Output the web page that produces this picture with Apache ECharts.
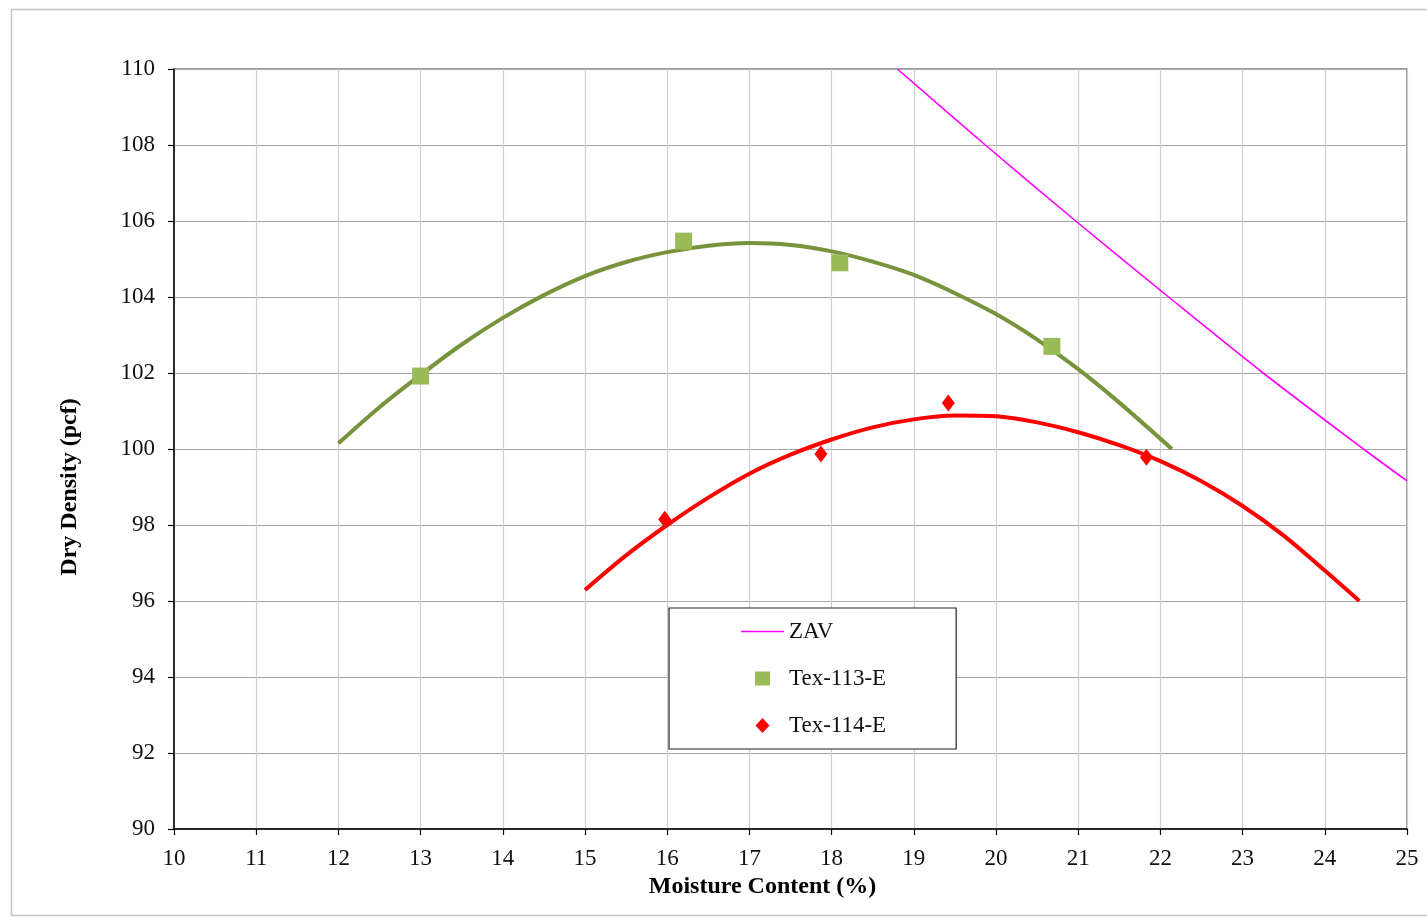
<!DOCTYPE html>
<html>
<head>
<meta charset="utf-8">
<script src="https://cdn.jsdelivr.net/npm/echarts@6/dist/echarts.min.js"></script>
<style>
html,body{margin:0;padding:0;background:#fff;}
#chart{width:1427px;height:917px;}
</style>
</head>
<body>
<div id="chart"></div>
<script>
// ZAV (zero air voids) line
const zavX = [18.8, 19.87, 20.97, 22.1, 23.25, 24.47, 25.0];
const zavY = [110.0, 108.0, 106.0, 104.0, 102.0, 100.0, 99.16];
// Tex-113-E measured points
const tex113X = [13.0, 16.2, 18.1, 20.68];
const tex113Y = [101.92, 105.47, 104.9, 102.7];
// Tex-113-E trend curve
const tex113CurveX = [12.0, 12.5, 13.0, 13.5, 14.0, 14.5, 15.0, 15.5, 16.0, 16.5, 17.0, 17.5, 18.0, 18.5, 19.0, 19.5, 20.0, 20.5, 21.0, 21.5, 22.14];
const tex113CurveY = [100.15, 101.1, 101.95, 102.75, 103.45, 104.05, 104.55, 104.92, 105.18, 105.35, 105.42, 105.37, 105.2, 104.93, 104.58, 104.1, 103.55, 102.88, 102.1, 101.22, 100.0];
// Tex-114-E measured points
const tex114X = [15.97, 17.87, 19.42, 21.83];
const tex114Y = [98.15, 99.87, 101.21, 99.78];
// Tex-114-E trend curve
const tex114CurveX = [15.0, 15.5, 16.0, 16.5, 17.0, 17.5, 18.0, 18.5, 19.0, 19.5, 20.0, 20.5, 21.0, 21.5, 22.0, 22.5, 23.0, 23.5, 24.0, 24.42];
const tex114CurveY = [96.29, 97.2, 98.0, 98.72, 99.35, 99.85, 100.25, 100.57, 100.78, 100.88, 100.86, 100.7, 100.44, 100.1, 99.68, 99.15, 98.5, 97.72, 96.8, 96.0];
// axis ticks
const xMin = 10, xMax = 25, xStep = 1;
const yMin = 90, yMax = 110, yStep = 2;

const zip = (a, b) => a.map((v, i) => [v, b[i]]);
const FONT = '"Liberation Serif", "Times New Roman", serif';

// legend icons: a tiny corner dot on each side keeps the icon box at 43x15, so the symbol keeps its size
const BOX = 'M0,0 L0.01,0 L0,0.01 Z M43,15 L42.99,15 L43,14.99 Z ';
const ICON_SQUARE = 'path://' + BOX + 'M14,0.5 L29,0.5 L29,14.5 L14,14.5 Z';
const ICON_DIAMOND = 'path://' + BOX + 'M21.5,0 L28.5,7.5 L21.5,15 L14.5,7.5 Z';
const ICON_LINE = 'path://' + BOX + 'M0,6.8 L43,6.8 L43,8.3 L0,8.3 Z';

const chart = echarts.init(document.getElementById('chart'), null, {renderer: 'canvas'});
chart.setOption({
  animation: false,
  backgroundColor: '#ffffff',
  graphic: [{
    type: 'rect', left: 9, top: 7, z: -10,
    shape: {width: 1430, height: 906},
    style: {fill: 'none', stroke: '#c4c4c4', lineWidth: 1.5}
  }],
  grid: {
    left: 174, right: 20, top: 69, bottom: 88,
    show: true, borderColor: '#7f7f7f', borderWidth: 1.5, backgroundColor: 'transparent'
  },
  legend: {
    orient: 'vertical',
    left: 669, top: 608,
    padding: [12, 70, 12, 72],
    itemGap: 24,
    itemWidth: 43, itemHeight: 15,
    itemTextGap: 4,
    borderColor: '#222', borderWidth: 1.2,
    backgroundColor: '#fff',
    textStyle: {fontFamily: FONT, fontSize: 23, color: '#111'},
    data: [
      {name: 'ZAV', icon: ICON_LINE, itemStyle: {color: '#ff00ff'}},
      {name: 'Tex-113-E', icon: ICON_SQUARE, itemStyle: {color: '#9bbb59'}},
      {name: 'Tex-114-E', icon: ICON_DIAMOND, itemStyle: {color: '#ff0000'}}
    ]
  },
  xAxis: {
    type: 'value', min: xMin, max: xMax, interval: xStep,
    name: 'Moisture Content (%)', nameLocation: 'middle', nameGap: 42,
    nameTextStyle: {fontFamily: FONT, fontSize: 24, fontWeight: 'bold', color: '#000', padding: [0, 56, 0, 0]},
    axisLine: {onZero: false, lineStyle: {color: '#000', width: 1.5}},
    axisTick: {show: true, length: 6, lineStyle: {color: '#000', width: 1.2}},
    axisLabel: {fontFamily: FONT, fontSize: 23, color: '#111', margin: 18},
    splitLine: {show: true, lineStyle: {color: '#cfcfcf', width: 1.2}}
  },
  yAxis: {
    type: 'value', min: yMin, max: yMax, interval: yStep,
    name: 'Dry Density (pcf)', nameLocation: 'middle', nameGap: 92, nameRotate: 90,
    nameTextStyle: {fontFamily: FONT, fontSize: 24, fontWeight: 'bold', color: '#000', padding: [0, 76, 0, 0]},
    axisLine: {onZero: false, lineStyle: {color: '#000', width: 1.5}},
    axisTick: {show: true, length: 6, lineStyle: {color: '#000', width: 1.2}},
    axisLabel: {fontFamily: FONT, fontSize: 23, color: '#111', margin: 19},
    splitLine: {show: true, lineStyle: {color: '#a8a8a8', width: 1.2}}
  },
  series: [
    {
      name: 'ZAV', type: 'line', data: zip(zavX, zavY), smooth: 0.3,
      showSymbol: false, symbol: 'none', clip: true,
      lineStyle: {color: '#ff00ff', width: 1.6}, itemStyle: {color: '#ff00ff'}, z: 3
    },
    {
      name: 'Tex-113-E trend', type: 'line', data: zip(tex113CurveX, tex113CurveY),
      smooth: 0.3,
      showSymbol: false, symbol: 'none',
      lineStyle: {color: '#77933c', width: 4}, z: 2
    },
    {
      name: 'Tex-114-E trend', type: 'line', data: zip(tex114CurveX, tex114CurveY),
      smooth: 0.3,
      showSymbol: false, symbol: 'none',
      lineStyle: {color: '#ff0000', width: 4}, z: 2
    },
    {
      name: 'Tex-113-E', type: 'scatter', data: zip(tex113X, tex113Y),
      symbol: 'rect', symbolSize: 17,
      itemStyle: {color: '#9bbb59', opacity: 1}, z: 4
    },
    {
      name: 'Tex-114-E', type: 'scatter', data: zip(tex114X, tex114Y),
      symbol: 'diamond', symbolSize: [13, 17],
      itemStyle: {color: '#ff0000', opacity: 1}, z: 4
    }
  ]
});
</script>
</body>
</html>
